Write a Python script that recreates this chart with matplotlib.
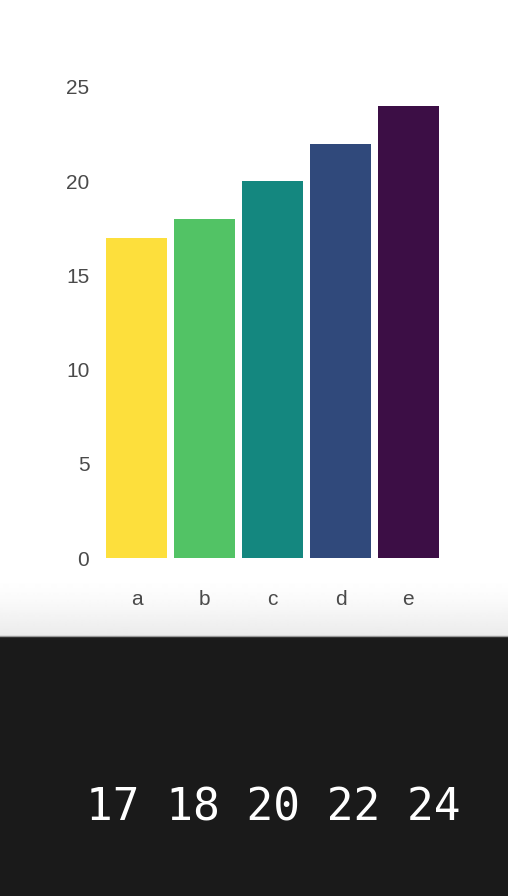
import numpy as np
import matplotlib
matplotlib.use('Agg')
import matplotlib.pyplot as plt

# data
categories = ['a', 'b', 'c', 'd', 'e']
values = [17, 18, 20, 22, 24]
bar_colors = ['#fddf3c', '#52c365', '#14877f', '#30497b', '#3c0e45']
yticks = [0, 5, 10, 15, 20, 25]

W, H = 508, 896
fig = plt.figure(figsize=(W / 100, H / 100), dpi=100)
fig.patch.set_facecolor('white')

# background: white top, soft gray fade, dark strip at bottom
bg = fig.add_axes([0, 0, 1, 1], zorder=-10)
bg.set_xlim(0, W)
bg.set_ylim(H, 0)
bg.axis('off')
grad = np.linspace(0, 1, 60)[:, None]
bg.imshow(1 - 0.08 * grad ** 1.5, cmap='gray', vmin=0, vmax=1, aspect='auto',
          extent=[0, W, 636, 576], interpolation='bilinear')
bg.axhline(636, color='#9a9a9a', lw=1)
bg.add_patch(plt.Rectangle((0, 637), W, H - 637, color='#1a1a1a', lw=0))

# bar chart
ax = fig.add_axes([106 / W, (H - 558) / H, 333 / W, 471 / H])
ax.bar(range(len(categories)), values, width=0.9, color=bar_colors)
ax.set_xlim(-0.45, 4.45)
ax.set_ylim(0, 25)
ax.set_yticks(yticks)
ax.set_xticks(range(len(categories)))
ax.set_xticklabels(categories)
for s in ax.spines.values():
    s.set_visible(False)
ax.set_facecolor('none')
ax.tick_params(length=0, labelsize=15, colors='#4a4a4a')
ax.tick_params(axis='y', pad=12)
ax.tick_params(axis='x', pad=23)
for lab in ax.get_xticklabels() + ax.get_yticklabels():
    lab.set_fontfamily('Liberation Sans')

# values printed below
fig.text(273 / W, 1 - 808 / H, ' '.join(str(v) for v in values),
         family='DejaVu Sans Mono', fontsize=32, color='white',
         ha='center', va='center')

fig.savefig('out.png', dpi=100)
